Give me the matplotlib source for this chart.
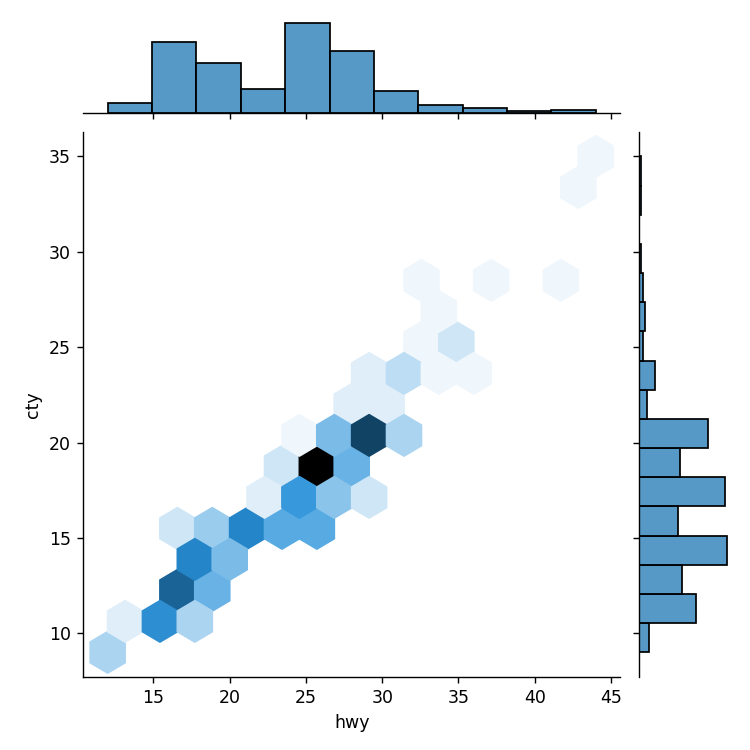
import matplotlib
matplotlib.use("Agg")
import matplotlib.pyplot as plt
import numpy as np
import seaborn as sns
from matplotlib.colors import to_rgb, to_rgba

# hexbin cell centres (hwy, cty) and the number of cars in each cell
hex_hwy = [12.0, 13.14, 15.43, 17.71, 16.57, 18.86, 17.71, 20.0,
           16.57, 18.86, 21.14, 23.43, 25.71,
           22.29, 24.57, 26.86, 29.14,
           23.43, 25.71, 28.0,
           24.57, 26.86, 29.14, 31.43,
           28.0, 30.29,
           29.14, 31.43, 33.71, 36.0,
           32.57, 34.86, 33.71,
           32.57, 37.14, 41.71,
           42.86, 44.0]
hex_cty = [9.0, 10.625, 10.625, 10.625, 12.25, 12.25, 13.875, 13.875,
           15.5, 15.5, 15.5, 15.5, 15.5,
           17.125, 17.125, 17.125, 17.125,
           18.75, 18.75, 18.75,
           20.375, 20.375, 20.375, 20.375,
           22.0, 22.0,
           23.625, 23.625, 23.625, 23.625,
           25.25, 25.25, 26.875,
           28.5, 28.5, 28.5,
           33.375, 35.0]
hex_counts = [5, 2, 13, 5, 17, 9, 14, 8,
              3, 6, 14, 10, 10,
              2, 12, 7, 3,
              3, 26, 9,
              1, 8, 20, 5,
              2, 2,
              2, 4, 1, 1,
              1, 3, 1,
              1, 1, 1,
              1, 1]

# marginal histograms
hwy_edges = np.linspace(12, 44, 12)
hwy_counts = [7, 48, 34, 16, 61, 42, 15, 5, 3, 1, 2]
cty_edges = np.linspace(9, 35, 18)
cty_counts = [5, 28, 21, 43, 19, 42, 20, 34, 4, 8, 2, 3, 2, 1, 0, 1, 1]


def main():
    color = "#1f77b4"
    rgb = to_rgb(color)
    colors = [sns.set_hls_values(rgb, l=l) for l in np.linspace(1, 0, 12)]
    cmap = sns.blend_palette(colors, as_cmap=True)

    g = sns.JointGrid(height=6)
    g.ax_joint.hexbin(hex_hwy, hex_cty, C=hex_counts, reduce_C_function=np.sum,
                      gridsize=14, extent=(12, 44, 9, 35), cmap=cmap,
                      vmin=0, vmax=max(hex_counts))

    face = to_rgba(color, 0.75)
    g.ax_marg_x.hist(hwy_edges[:-1], bins=hwy_edges, weights=hwy_counts,
                     facecolor=face, edgecolor="black", linewidth=1)
    g.ax_marg_y.hist(cty_edges[:-1], bins=cty_edges, weights=cty_counts,
                     orientation="horizontal",
                     facecolor=face, edgecolor="black", linewidth=1)

    g.set_axis_labels("hwy", "cty")
    g.figure.tight_layout()
    g.figure.subplots_adjust(left=0.111, hspace=0.2, wspace=0.2)
    g.figure.savefig("out.png", dpi=125)


if __name__ == "__main__":
    main()
